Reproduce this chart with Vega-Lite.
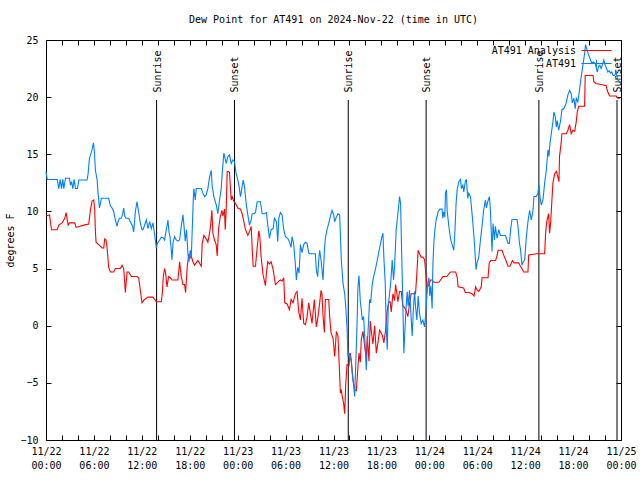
{
  "$schema": "https://vega.github.io/schema/vega-lite/v6.json",
  "width": 575,
  "height": 400,
  "autosize": {"type": "none"},
  "padding": {"left": 46, "top": 40, "right": 19, "bottom": 40},
  "background": "white",
  "config": {
    "view": {"stroke": "black", "strokeWidth": 1},
    "font": "DejaVu Sans Mono",
    "axis": {"domain": false, "grid": false, "tickColor": "black", "labelColor": "black", "labelFont": "DejaVu Sans Mono", "labelFontSize": 10, "titleFont": "DejaVu Sans Mono", "titleFontSize": 10, "titleFontWeight": "normal", "titleColor": "black", "tickSize": -5, "labelOverlap": false, "labelFlush": false, "labelBound": false}
  },
  "title": {"text": "Dew Point for AT491 on 2024-Nov-22 (time in UTC)", "font": "DejaVu Sans Mono", "fontSize": 10, "fontWeight": "normal", "color": "black", "anchor": "middle", "offset": 10},
  "datasets": {
    "analysis": [
      {"h":0,"v":9.6},{"h":0.44,"v":9.7},{"h":0.69,"v":8.4},{"h":1.4,"v":8.4},{"h":1.6,"v":8.8},{"h":2.02,"v":9.0},{"h":2.35,"v":9.4},{"h":2.52,"v":9.9},{"h":2.77,"v":8.8},{"h":2.94,"v":9.0},{"h":3.6,"v":9.0},{"h":3.77,"v":8.6},{"h":4.73,"v":8.8},{"h":5.35,"v":8.9},{"h":5.56,"v":10.1},{"h":5.77,"v":10.9},{"h":5.98,"v":11.0},{"h":6.1,"v":10.1},{"h":6.19,"v":8.2},{"h":6.27,"v":7.3},{"h":6.6,"v":7.1},{"h":7.02,"v":6.8},{"h":7.23,"v":6.8},{"h":7.35,"v":7.6},{"h":7.52,"v":7.5},{"h":7.65,"v":6.8},{"h":7.85,"v":5.1},{"h":8.06,"v":4.7},{"h":8.48,"v":4.7},{"h":8.69,"v":5.0},{"h":9.31,"v":5.0},{"h":9.52,"v":5.3},{"h":9.73,"v":5.0},{"h":9.94,"v":2.9},{"h":10.15,"v":4.7},{"h":10.35,"v":4.7},{"h":10.69,"v":4.3},{"h":11.4,"v":4.3},{"h":11.6,"v":4.2},{"h":11.81,"v":3.1},{"h":12.02,"v":2.0},{"h":12.27,"v":2.25},{"h":12.77,"v":2.5},{"h":13.4,"v":2.5},{"h":13.81,"v":2.1},{"h":14.44,"v":2.1},{"h":14.56,"v":2.8},{"h":14.69,"v":4.3},{"h":14.85,"v":5.0},{"h":14.98,"v":4.6},{"h":15.15,"v":3.4},{"h":15.35,"v":4.3},{"h":15.56,"v":4.2},{"h":15.77,"v":4.0},{"h":16.52,"v":4.0},{"h":16.73,"v":5.6},{"h":16.94,"v":4.3},{"h":17.15,"v":3.6},{"h":17.35,"v":3.6},{"h":17.48,"v":2.9},{"h":17.69,"v":5.2},{"h":17.9,"v":6.3},{"h":18.02,"v":5.9},{"h":18.19,"v":6.1},{"h":18.4,"v":5.6},{"h":18.6,"v":5.3},{"h":19.02,"v":5.7},{"h":19.44,"v":5.2},{"h":19.56,"v":7.2},{"h":19.77,"v":7.9},{"h":20.06,"v":7.6},{"h":20.27,"v":7.3},{"h":20.48,"v":8.1},{"h":20.6,"v":8.7},{"h":20.77,"v":10.1},{"h":20.9,"v":8.1},{"h":21.1,"v":7.5},{"h":21.31,"v":7.1},{"h":21.44,"v":6.1},{"h":21.6,"v":8.4},{"h":21.81,"v":9.5},{"h":22.02,"v":10.1},{"h":22.15,"v":9.6},{"h":22.35,"v":10.2},{"h":22.44,"v":8.4},{"h":22.56,"v":10.1},{"h":22.69,"v":13.5},{"h":22.85,"v":13.5},{"h":22.98,"v":13.4},{"h":23.19,"v":11.0},{"h":23.31,"v":11.3},{"h":23.52,"v":10.9},{"h":23.81,"v":10.6},{"h":24.02,"v":10.3},{"h":24.35,"v":10.2},{"h":24.56,"v":9.8},{"h":24.77,"v":9.1},{"h":24.98,"v":8.4},{"h":25.27,"v":7.9},{"h":25.52,"v":8.3},{"h":25.69,"v":8.7},{"h":25.81,"v":6.9},{"h":25.94,"v":5.2},{"h":26.23,"v":5.2},{"h":26.44,"v":6.8},{"h":26.65,"v":8.3},{"h":26.77,"v":7.8},{"h":26.94,"v":6.0},{"h":27.19,"v":4.4},{"h":27.48,"v":3.5},{"h":27.6,"v":4.6},{"h":27.77,"v":5.6},{"h":27.98,"v":5.4},{"h":28.19,"v":5.6},{"h":28.44,"v":4.9},{"h":28.73,"v":3.6},{"h":29.15,"v":3.9},{"h":29.36,"v":4.0},{"h":29.56,"v":3.9},{"h":29.77,"v":4.2},{"h":29.9,"v":2.0},{"h":30.19,"v":1.9},{"h":30.48,"v":1.4},{"h":30.69,"v":2.3},{"h":30.94,"v":2.0},{"h":31.23,"v":2.8},{"h":31.44,"v":3.0},{"h":31.65,"v":1.2},{"h":31.86,"v":0.5},{"h":32.06,"v":2.4},{"h":32.27,"v":0.2},{"h":32.48,"v":0.1},{"h":32.69,"v":0.8},{"h":32.9,"v":2.0},{"h":33.1,"v":1.1},{"h":33.31,"v":0.2},{"h":33.6,"v":2.3},{"h":33.85,"v":-0.1},{"h":34.06,"v":0.8},{"h":34.27,"v":2.0},{"h":34.44,"v":3.1},{"h":34.56,"v":2.8},{"h":34.69,"v":0.8},{"h":34.86,"v":-0.6},{"h":34.98,"v":2.3},{"h":35.4,"v":2.3},{"h":35.52,"v":0.8},{"h":35.69,"v":-0.6},{"h":35.94,"v":-1.1},{"h":36.15,"v":-2.7},{"h":36.36,"v":-0.5},{"h":36.56,"v":-0.9},{"h":36.69,"v":-3.0},{"h":36.86,"v":-5.9},{"h":36.98,"v":-5.6},{"h":37.1,"v":-6.2},{"h":37.27,"v":-6.8},{"h":37.4,"v":-7.7},{"h":37.52,"v":-5.3},{"h":37.69,"v":-3.4},{"h":37.94,"v":-3.5},{"h":38.1,"v":-2.4},{"h":38.23,"v":-3.1},{"h":38.44,"v":-4.7},{"h":38.65,"v":-5.6},{"h":38.86,"v":-5.7},{"h":39.07,"v":-3.5},{"h":39.19,"v":-2.4},{"h":39.36,"v":-3.2},{"h":39.48,"v":-1.2},{"h":39.69,"v":-0.5},{"h":39.9,"v":-1.8},{"h":40.1,"v":-2.7},{"h":40.23,"v":-0.9},{"h":40.44,"v":-3.1},{"h":40.6,"v":0.4},{"h":40.81,"v":-0.9},{"h":40.94,"v":-1.6},{"h":41.15,"v":0.0},{"h":41.36,"v":-2.4},{"h":41.56,"v":-1.5},{"h":41.77,"v":-0.4},{"h":42.1,"v":-0.8},{"h":42.31,"v":-1.5},{"h":42.52,"v":-0.4},{"h":42.69,"v":1.1},{"h":42.81,"v":1.7},{"h":42.94,"v":2.1},{"h":43.1,"v":2.1},{"h":43.23,"v":1.2},{"h":43.44,"v":2.8},{"h":43.65,"v":2.2},{"h":43.77,"v":3.6},{"h":43.94,"v":2.8},{"h":44.06,"v":2.1},{"h":44.27,"v":3.0},{"h":44.48,"v":3.0},{"h":44.69,"v":1.7},{"h":44.9,"v":1.6},{"h":45.1,"v":1.3},{"h":45.31,"v":0.8},{"h":45.52,"v":1.9},{"h":45.73,"v":2.8},{"h":45.94,"v":2.8},{"h":46.27,"v":2.8},{"h":46.44,"v":4.6},{"h":46.6,"v":6.6},{"h":46.77,"v":6.3},{"h":46.98,"v":6.0},{"h":47.19,"v":6.0},{"h":47.4,"v":5.8},{"h":47.52,"v":4.9},{"h":47.69,"v":3.6},{"h":47.94,"v":3.5},{"h":48.15,"v":4.0},{"h":48.35,"v":4.0},{"h":48.56,"v":3.8},{"h":49.2,"v":3.8},{"h":49.4,"v":4.0},{"h":49.7,"v":4.3},{"h":50.2,"v":4.3},{"h":50.4,"v":4.5},{"h":50.65,"v":4.7},{"h":51.3,"v":4.7},{"h":51.5,"v":4.2},{"h":51.6,"v":3.4},{"h":52.3,"v":3.3},{"h":52.5,"v":2.9},{"h":53.0,"v":2.9},{"h":53.35,"v":2.8},{"h":53.6,"v":2.6},{"h":53.8,"v":3.4},{"h":54.0,"v":3.1},{"h":54.2,"v":3.0},{"h":54.5,"v":3.4},{"h":54.6,"v":4.2},{"h":55.35,"v":4.2},{"h":55.5,"v":5.5},{"h":55.7,"v":5.7},{"h":56.3,"v":5.7},{"h":56.5,"v":6.2},{"h":56.6,"v":6.6},{"h":57.1,"v":6.6},{"h":57.3,"v":6.2},{"h":57.6,"v":5.7},{"h":57.85,"v":5.2},{"h":58.1,"v":5.2},{"h":58.4,"v":5.7},{"h":58.6,"v":5.5},{"h":59.2,"v":5.5},{"h":59.4,"v":5.2},{"h":59.6,"v":5.0},{"h":59.8,"v":4.7},{"h":60.35,"v":4.7},{"h":60.44,"v":6.2},{"h":61.4,"v":6.3},{"h":62.44,"v":6.3},{"h":62.56,"v":8.1},{"h":62.7,"v":9.1},{"h":62.94,"v":9.8},{"h":63.06,"v":8.1},{"h":63.2,"v":9.1},{"h":63.35,"v":11.0},{"h":63.48,"v":12.5},{"h":63.7,"v":13.3},{"h":63.9,"v":13.5},{"h":64.1,"v":13.0},{"h":64.23,"v":12.6},{"h":64.3,"v":14.8},{"h":64.5,"v":15.95},{"h":64.6,"v":16.8},{"h":65.15,"v":16.8},{"h":65.35,"v":17.1},{"h":65.56,"v":17.6},{"h":65.77,"v":16.8},{"h":65.98,"v":17.1},{"h":66.2,"v":17.0},{"h":66.4,"v":17.85},{"h":66.52,"v":18.7},{"h":66.7,"v":19.2},{"h":67.44,"v":19.2},{"h":67.52,"v":21.9},{"h":68.5,"v":21.9},{"h":68.6,"v":21.35},{"h":68.85,"v":21.2},{"h":69.5,"v":21.1},{"h":70.15,"v":21.0},{"h":70.27,"v":20.6},{"h":70.56,"v":20.1},{"h":71.4,"v":20.1},{"h":71.6,"v":19.9},{"h":71.9,"v":19.9}
    ],
    "obs": [
      {"h":0,"v":13.5},{"h":0.15,"v":12.8},{"h":1.4,"v":12.8},{"h":1.6,"v":12.0},{"h":1.77,"v":12.8},{"h":1.94,"v":12.0},{"h":2.1,"v":12.8},{"h":2.23,"v":12.0},{"h":2.44,"v":12.9},{"h":2.94,"v":12.9},{"h":3.06,"v":12.3},{"h":3.2,"v":12.6},{"h":3.35,"v":12.0},{"h":3.52,"v":12.8},{"h":3.69,"v":12.0},{"h":3.94,"v":12.0},{"h":4.1,"v":12.75},{"h":5.15,"v":12.75},{"h":5.27,"v":13.3},{"h":5.44,"v":14.65},{"h":5.56,"v":14.9},{"h":5.77,"v":15.4},{"h":5.94,"v":16.0},{"h":6.06,"v":15.2},{"h":6.19,"v":13.6},{"h":6.4,"v":12.75},{"h":6.52,"v":11.6},{"h":6.69,"v":10.3},{"h":6.81,"v":10.7},{"h":6.94,"v":11.15},{"h":7.85,"v":11.15},{"h":8.06,"v":10.5},{"h":8.27,"v":10.3},{"h":8.48,"v":9.97},{"h":8.69,"v":9.25},{"h":8.9,"v":8.7},{"h":9.02,"v":9.1},{"h":9.19,"v":9.4},{"h":9.44,"v":9.4},{"h":9.6,"v":9.8},{"h":9.73,"v":10.3},{"h":9.85,"v":9.6},{"h":10.02,"v":9.4},{"h":10.35,"v":9.4},{"h":10.56,"v":9.1},{"h":10.85,"v":8.7},{"h":10.98,"v":8.2},{"h":11.19,"v":9.97},{"h":11.4,"v":10.85},{"h":11.6,"v":9.97},{"h":11.81,"v":9.0},{"h":12.02,"v":8.4},{"h":12.15,"v":8.4},{"h":12.35,"v":8.8},{"h":12.56,"v":9.25},{"h":12.77,"v":8.5},{"h":12.98,"v":9.1},{"h":13.19,"v":8.5},{"h":13.4,"v":9.0},{"h":13.52,"v":8.4},{"h":13.69,"v":7.5},{"h":13.81,"v":6.8},{"h":13.94,"v":7.2},{"h":14.23,"v":7.5},{"h":14.44,"v":7.75},{"h":14.65,"v":7.7},{"h":14.85,"v":7.5},{"h":15.06,"v":8.4},{"h":15.27,"v":9.25},{"h":15.4,"v":8.2},{"h":15.52,"v":7.8},{"h":15.69,"v":6.6},{"h":15.77,"v":5.75},{"h":15.9,"v":7.2},{"h":16.1,"v":7.8},{"h":16.31,"v":7.5},{"h":16.52,"v":7.4},{"h":16.73,"v":7.5},{"h":16.94,"v":8.7},{"h":17.15,"v":9.7},{"h":17.27,"v":8.8},{"h":17.44,"v":7.4},{"h":17.6,"v":8.4},{"h":17.77,"v":6.3},{"h":17.9,"v":5.6},{"h":18.06,"v":6.6},{"h":18.19,"v":5.9},{"h":18.31,"v":8.4},{"h":18.44,"v":11.0},{"h":18.52,"v":12.0},{"h":18.69,"v":11.0},{"h":18.81,"v":12.0},{"h":19.02,"v":12.0},{"h":19.44,"v":12.0},{"h":19.65,"v":11.6},{"h":19.85,"v":11.3},{"h":20.06,"v":11.45},{"h":20.27,"v":12.0},{"h":20.48,"v":13.0},{"h":20.69,"v":13.6},{"h":20.81,"v":12.2},{"h":21.02,"v":11.3},{"h":21.31,"v":10.6},{"h":21.52,"v":9.8},{"h":21.73,"v":11.0},{"h":21.94,"v":12.0},{"h":22.06,"v":13.3},{"h":22.27,"v":15.1},{"h":22.44,"v":14.6},{"h":22.56,"v":14.2},{"h":22.77,"v":14.8},{"h":22.98,"v":14.95},{"h":23.19,"v":14.2},{"h":23.4,"v":14.5},{"h":23.6,"v":14.35},{"h":23.81,"v":13.3},{"h":23.94,"v":13.0},{"h":24.15,"v":12.3},{"h":24.35,"v":11.3},{"h":24.48,"v":11.85},{"h":24.69,"v":12.75},{"h":24.85,"v":12.2},{"h":25.06,"v":10.7},{"h":25.27,"v":9.7},{"h":25.48,"v":8.8},{"h":25.69,"v":9.25},{"h":25.81,"v":9.8},{"h":26.02,"v":9.8},{"h":26.23,"v":9.9},{"h":26.44,"v":10.85},{"h":26.85,"v":10.85},{"h":27.06,"v":9.8},{"h":27.35,"v":9.8},{"h":27.6,"v":9.9},{"h":27.77,"v":8.8},{"h":27.98,"v":7.65},{"h":28.19,"v":8.4},{"h":28.44,"v":8.5},{"h":28.6,"v":9.4},{"h":28.85,"v":9.1},{"h":29.02,"v":7.35},{"h":29.15,"v":9.4},{"h":29.35,"v":9.9},{"h":29.56,"v":9.7},{"h":29.77,"v":8.4},{"h":29.98,"v":7.8},{"h":30.27,"v":7.65},{"h":30.48,"v":7.35},{"h":30.69,"v":6.85},{"h":30.81,"v":7.8},{"h":31.02,"v":7.1},{"h":31.23,"v":5.3},{"h":31.35,"v":4.0},{"h":31.52,"v":5.1},{"h":31.69,"v":4.6},{"h":31.86,"v":7.1},{"h":32.06,"v":6.4},{"h":32.27,"v":7.1},{"h":32.48,"v":7.3},{"h":32.69,"v":7.2},{"h":32.9,"v":6.35},{"h":33.1,"v":6.3},{"h":33.73,"v":6.3},{"h":33.85,"v":4.9},{"h":34.02,"v":4.3},{"h":34.15,"v":5.75},{"h":34.27,"v":6.6},{"h":34.44,"v":5.75},{"h":34.69,"v":4.0},{"h":34.86,"v":6.6},{"h":34.98,"v":7.65},{"h":35.19,"v":8.4},{"h":35.4,"v":8.95},{"h":35.6,"v":9.55},{"h":35.81,"v":10.1},{"h":36.02,"v":9.7},{"h":36.15,"v":9.1},{"h":36.35,"v":9.5},{"h":36.56,"v":9.8},{"h":36.77,"v":9.7},{"h":36.98,"v":5.75},{"h":37.19,"v":3.7},{"h":37.4,"v":2.8},{"h":37.52,"v":1.8},{"h":37.69,"v":-0.1},{"h":37.81,"v":-2.7},{"h":37.94,"v":-2.4},{"h":38.1,"v":-2.7},{"h":38.23,"v":-3.1},{"h":38.35,"v":-4.2},{"h":38.52,"v":-5.2},{"h":38.65,"v":-6.2},{"h":38.77,"v":-3.7},{"h":38.94,"v":-0.1},{"h":39.06,"v":3.4},{"h":39.19,"v":4.4},{"h":39.36,"v":2.1},{"h":39.48,"v":1.4},{"h":39.6,"v":0.5},{"h":39.77,"v":0.8},{"h":39.9,"v":-0.9},{"h":40.1,"v":-3.9},{"h":40.23,"v":-1.8},{"h":40.4,"v":0.5},{"h":40.52,"v":2.3},{"h":40.65,"v":2.0},{"h":40.85,"v":3.6},{"h":41.02,"v":4.3},{"h":41.27,"v":5.0},{"h":41.48,"v":5.75},{"h":41.69,"v":6.5},{"h":41.9,"v":7.2},{"h":42.06,"v":7.8},{"h":42.19,"v":8.1},{"h":42.31,"v":5.9},{"h":42.48,"v":3.7},{"h":42.6,"v":-0.1},{"h":42.73,"v":-2.1},{"h":42.85,"v":1.7},{"h":43.02,"v":2.8},{"h":43.19,"v":4.0},{"h":43.35,"v":5.75},{"h":43.52,"v":4.0},{"h":43.65,"v":5.2},{"h":43.85,"v":8.4},{"h":44.06,"v":9.8},{"h":44.27,"v":11.3},{"h":44.4,"v":10.7},{"h":44.52,"v":6.9},{"h":44.69,"v":1.7},{"h":44.81,"v":-2.4},{"h":44.94,"v":-0.4},{"h":45.1,"v":1.7},{"h":45.23,"v":3.0},{"h":45.35,"v":1.7},{"h":45.52,"v":3.1},{"h":45.69,"v":1.1},{"h":45.85,"v":-0.9},{"h":46.02,"v":1.7},{"h":46.15,"v":3.0},{"h":46.27,"v":1.7},{"h":46.44,"v":0.5},{"h":46.6,"v":2.6},{"h":46.77,"v":1.1},{"h":46.98,"v":0.2},{"h":47.19,"v":0.5},{"h":47.4,"v":-0.1},{"h":47.52,"v":0.8},{"h":47.69,"v":2.6},{"h":47.81,"v":3.7},{"h":47.94,"v":4.2},{"h":48.06,"v":2.6},{"h":48.19,"v":3.5},{"h":48.35,"v":1.5},{"h":48.44,"v":5.2},{"h":48.56,"v":7.2},{"h":48.69,"v":8.4},{"h":48.85,"v":9.25},{"h":49.1,"v":9.97},{"h":49.3,"v":10.2},{"h":49.6,"v":10.2},{"h":49.69,"v":9.4},{"h":49.8,"v":9.97},{"h":49.94,"v":9.5},{"h":50.02,"v":11.6},{"h":50.15,"v":11.9},{"h":50.23,"v":10.1},{"h":50.44,"v":8.7},{"h":50.65,"v":7.65},{"h":50.85,"v":7.1},{"h":51.06,"v":6.6},{"h":51.19,"v":8.0},{"h":51.35,"v":10.7},{"h":51.48,"v":11.9},{"h":51.69,"v":12.6},{"h":51.9,"v":12.8},{"h":52.02,"v":12.0},{"h":52.19,"v":12.3},{"h":52.31,"v":11.7},{"h":52.52,"v":12.7},{"h":52.65,"v":12.75},{"h":52.81,"v":11.15},{"h":52.94,"v":11.6},{"h":53.15,"v":11.3},{"h":53.27,"v":10.4},{"h":53.44,"v":9.1},{"h":53.65,"v":7.2},{"h":53.85,"v":4.9},{"h":53.98,"v":5.5},{"h":54.19,"v":6.0},{"h":54.4,"v":7.5},{"h":54.6,"v":8.7},{"h":54.8,"v":10.1},{"h":55.02,"v":11.0},{"h":55.15,"v":10.3},{"h":55.31,"v":10.85},{"h":55.52,"v":11.3},{"h":55.65,"v":10.1},{"h":55.85,"v":6.5},{"h":55.98,"v":8.95},{"h":56.15,"v":7.5},{"h":56.27,"v":8.7},{"h":56.48,"v":7.65},{"h":56.69,"v":8.4},{"h":56.9,"v":7.9},{"h":57.52,"v":7.9},{"h":57.73,"v":7.5},{"h":57.85,"v":7.2},{"h":58.02,"v":7.2},{"h":58.19,"v":8.5},{"h":58.35,"v":9.3},{"h":58.98,"v":9.3},{"h":59.1,"v":8.7},{"h":59.27,"v":7.35},{"h":59.44,"v":6.5},{"h":59.6,"v":5.3},{"h":59.77,"v":5.6},{"h":59.94,"v":5.75},{"h":60.15,"v":7.8},{"h":60.35,"v":9.1},{"h":60.56,"v":10.1},{"h":60.77,"v":9.25},{"h":60.98,"v":10.1},{"h":61.1,"v":11.3},{"h":61.4,"v":11.3},{"h":61.6,"v":11.6},{"h":61.73,"v":12.3},{"h":61.85,"v":11.3},{"h":62.02,"v":10.55},{"h":62.23,"v":11.0},{"h":62.44,"v":12.5},{"h":62.65,"v":13.6},{"h":62.85,"v":15.4},{"h":62.98,"v":14.8},{"h":63.1,"v":15.95},{"h":63.27,"v":16.8},{"h":63.48,"v":17.85},{"h":63.6,"v":18.7},{"h":63.77,"v":18.3},{"h":63.9,"v":17.4},{"h":64.02,"v":17.95},{"h":64.19,"v":17.1},{"h":64.44,"v":17.95},{"h":64.6,"v":18.9},{"h":64.85,"v":19.0},{"h":65.15,"v":19.5},{"h":65.35,"v":20.2},{"h":65.56,"v":20.6},{"h":65.77,"v":20.3},{"h":65.9,"v":19.5},{"h":66.1,"v":19.9},{"h":66.27,"v":19.0},{"h":66.4,"v":19.9},{"h":66.6,"v":19.6},{"h":66.8,"v":20.6},{"h":67.02,"v":21.8},{"h":67.23,"v":22.8},{"h":67.44,"v":23.8},{"h":67.56,"v":24.6},{"h":67.77,"v":24.1},{"h":67.94,"v":23.7},{"h":68.19,"v":23.25},{"h":68.35,"v":22.95},{"h":68.52,"v":23.1},{"h":68.77,"v":22.95},{"h":69.02,"v":22.2},{"h":69.19,"v":22.7},{"h":69.35,"v":22.8},{"h":69.52,"v":22.5},{"h":69.73,"v":22.95},{"h":69.85,"v":23.25},{"h":70.02,"v":22.8},{"h":70.19,"v":22.5},{"h":70.35,"v":22.2},{"h":70.52,"v":22.3},{"h":70.69,"v":22.1},{"h":70.85,"v":22.2},{"h":71.02,"v":21.9},{"h":71.19,"v":21.9},{"h":71.4,"v":22.2},{"h":71.6,"v":21.5},{"h":71.9,"v":21.3}
    ],
    "sun": [
      {"h":13.85,"label":"Sunrise"},{"h":23.6,"label":"Sunset"},{"h":37.85,"label":"Sunrise"},{"h":47.6,"label":"Sunset"},{"h":61.72,"label":"Sunrise"},{"h":71.5,"label":"Sunset"}
    ]
  },
  "layer": [
    {
      "data": {"name": "sun"},
      "mark": {"type": "rule", "color": "black", "strokeWidth": 1},
      "encoding": {
        "x": {"field": "h", "type": "quantitative", "scale": {"domain": [0, 72], "nice": false, "zero": false},
              "axis": {"orient": "top", "values": [0,2,4,6,8,10,12,14,16,18,20,22,24,26,28,30,32,34,36,38,40,42,44,46,48,50,52,54,56,58,60,62,64,66,68,70,72], "labels": false, "title": null}},
        "y": {"datum": 19.75, "type": "quantitative", "scale": {"domain": [-10, 25], "nice": false, "zero": false},
              "axis": {"orient": "right", "values": [-10,-5,0,5,10,15,20,25], "labels": false, "title": null}},
        "y2": {"datum": -10}
      }
    },
    {
      "data": {"name": "sun"},
      "mark": {"type": "text", "angle": 270, "align": "left", "baseline": "middle", "font": "DejaVu Sans Mono", "fontSize": 10, "color": "black", "dy": 1},
      "encoding": {
        "x": {"field": "h", "type": "quantitative", "axis": null},
        "y": {"datum": 20.4, "type": "quantitative", "axis": null},
        "text": {"field": "label"}
      }
    },
    {
      "data": {"name": "analysis"},
      "mark": {"type": "line", "strokeWidth": 1.1},
      "encoding": {
        "x": {"field": "h", "type": "quantitative",
              "axis": {"orient": "bottom", "values": [0,2,4,6,8,10,12,14,16,18,20,22,24,26,28,30,32,34,36,38,40,42,44,46,48,50,52,54,56,58,60,62,64,66,68,70,72],
                       "labelExpr": "datum.value % 6 == 0 ? [utcFormat(utc(2024,10,22) + datum.value * 3600000, '%m/%d'), utcFormat(utc(2024,10,22) + datum.value * 3600000, '%H:%M')] : ''",
                       "labelPadding": 11, "labelLineHeight": 14, "title": null}},
        "y": {"field": "v", "type": "quantitative",
              "axis": {"orient": "left", "values": [-10,-5,0,5,10,15,20,25], "labelPadding": 13, "title": "degrees F", "titleX": -36, "titleY": 200, "titleAngle": -90, "titleAlign": "center", "titleBaseline": "middle"}},
        "color": {"datum": "AT491 Analysis", "type": "nominal",
                  "scale": {"domain": ["AT491 Analysis", "AT491"], "range": ["#ff0000", "#0080ff"]},
                  "legend": {"orient": "none", "legendX": 545, "legendY": 5, "title": null, "symbolType": "M-3,0H3", "symbolSize": 100, "symbolStrokeWidth": 1, "labelOffset": -26, "labelAlign": "right", "labelFont": "DejaVu Sans Mono", "labelFontSize": 10, "labelColor": "black", "rowPadding": 1, "padding": 0, "labelLimit": 0,
                             "encode": {"symbols": {"update": {"shape": {"signal": "datum.value == 'AT491' ? 'M-3,0H3M0,-0.75V0.75' : 'M-3,0H3'"}}}}}}
      }
    },
    {
      "data": {"name": "obs"},
      "mark": {"type": "line", "strokeWidth": 1.1},
      "encoding": {
        "x": {"field": "h", "type": "quantitative", "axis": null},
        "y": {"field": "v", "type": "quantitative", "axis": null},
        "color": {"datum": "AT491", "type": "nominal"}
      }
    }
  ],
  "resolve": {"axis": {"x": "independent", "y": "independent"}}
}
